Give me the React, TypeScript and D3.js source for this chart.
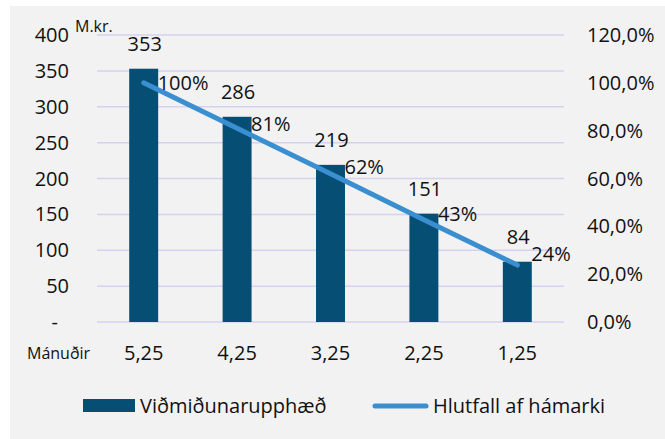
import React from "react";
import * as d3 from "d3";

const categories = ["5,25", "4,25", "3,25", "2,25", "1,25"];
const amounts = [353, 286, 219, 151, 84];
const ratios = [1.0, 0.81, 0.62, 0.428, 0.238];
const leftTicks = [0, 50, 100, 150, 200, 250, 300, 350, 400];
const rightTicks = [0, 0.2, 0.4, 0.6, 0.8, 1.0, 1.2];
const barSeriesName = "Viðmiðunarupphæð";
const lineSeriesName = "Hlutfall af hámarki";
const xAxisTitle = "Mánuðir";
const yAxisTitle = "M.kr.";

const W = 665;
const H = 439;
const FONT = "'Open Sans', sans-serif";
const TEXT = "#111";
const BAR = "#064e74";
const LINE = "#3a8fd0";
const GRID = "#d5d2f0";

export default function App() {
  const x = d3.scaleBand().domain(categories).range([97, 564]).paddingInner(0).paddingOuter(0);
  const yL = d3.scaleLinear().domain([0, 400]).range([322, 35]);
  const yR = d3.scaleLinear().domain([0, 1.2]).range([322, 35]);
  const barW = x.bandwidth() * 0.31;
  const cx = (c: string) => (x(c) as number) + x.bandwidth() / 2;
  const fmtL = (v: number) => (v === 0 ? "-" : String(v));
  const fmtR = (v: number) => (v * 100).toFixed(1).replace(".", ",") + "%";
  const lineGen = d3
    .line<number>()
    .x((_, i) => cx(categories[i]))
    .y((d) => yR(d));
  const pctNudge = [0, -4, -7, -6, -11];

  return (
    <svg width={W} height={H} style={{ position: "absolute", left: 0, top: 0 }}>
      <rect x={0} y={0} width={W} height={H} fill="#fff" />
      <rect x={10} y={6} width={W - 10} height={H - 6} fill="#f2f2f2" />
      {leftTicks.map((t) => (
        <line key={"g" + t} x1={97} x2={564} y1={yL(t)} y2={yL(t)} stroke={GRID} strokeWidth={1.5} />
      ))}
      {leftTicks.map((t) => (
        <text
          key={"l" + t}
          x={t === 0 ? 58 : 69}
          y={yL(t)}
          dy="0.35em"
          textAnchor="end"
          fontFamily={FONT}
          fontSize={20}
          fill={TEXT}
        >
          {fmtL(t)}
        </text>
      ))}
      {rightTicks.map((t) => (
        <text
          key={"r" + t}
          x={587}
          y={yR(t)}
          dy="0.35em"
          textAnchor="start"
          fontFamily={FONT}
          fontSize={20}
          fill={TEXT}
        >
          {fmtR(t)}
        </text>
      ))}
      <text x={75} y={32} fontFamily={FONT} fontSize={16} fill={TEXT}>
        {yAxisTitle}
      </text>
      {categories.map((c, i) => (
        <rect key={"b" + c} x={cx(c) - barW / 2} y={yL(amounts[i])} width={barW} height={yL(0) - yL(amounts[i])} fill={BAR} />
      ))}
      <path d={lineGen(ratios) || ""} fill="none" stroke={LINE} strokeWidth={5} strokeLinecap="round" strokeLinejoin="round" />
      {categories.map((c, i) => (
        <text
          key={"bl" + c}
          x={cx(c) + 1}
          y={yL(amounts[i]) - 18}
          textAnchor="middle"
          fontFamily={FONT}
          fontSize={20}
          fill={TEXT}
        >
          {amounts[i]}
        </text>
      ))}
      {categories.map((c, i) => (
        <text
          key={"pl" + c}
          x={cx(c) + 14}
          y={yR(ratios[i]) + pctNudge[i]}
          dy="0.35em"
          textAnchor="start"
          fontFamily={FONT}
          fontSize={20}
          fill={TEXT}
        >
          {Math.round(ratios[i] * 100) + "%"}
        </text>
      ))}
      {categories.map((c) => (
        <text key={"x" + c} x={cx(c)} y={360} textAnchor="middle" fontFamily={FONT} fontSize={20} fill={TEXT}>
          {c}
        </text>
      ))}
      <text x={27} y={359} fontFamily={FONT} fontSize={16} fill={TEXT}>
        {xAxisTitle}
      </text>
      <rect x={83} y={399} width={52} height={13} fill={BAR} />
      <text x={140} y={413} fontFamily={FONT} fontSize={20} fill={TEXT}>
        {barSeriesName}
      </text>
      <line x1={375} x2={426} y1={406} y2={406} stroke={LINE} strokeWidth={5} strokeLinecap="round" />
      <text x={433} y={413} fontFamily={FONT} fontSize={20} fill={TEXT}>
        {lineSeriesName}
      </text>
    </svg>
  );
}
